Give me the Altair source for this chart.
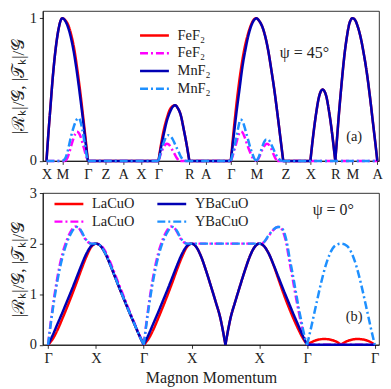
import json
import altair as alt
import pandas as pd

FONT = "Liberation Serif"
FS = 14.5

# ---------------- panel (a): psi = 45 deg ----------------
top_ticks = [0, 16, 41.6, 59.3, 77, 95, 112.6, 143.6, 160, 185.3, 211, 240.3, 265.3, 290.3, 307.6, 332.6]
top_labels = ["X", "M", "Γ", "Z", "A", "X", "Γ", "R", "A", "Γ", "M", "Z", "X", "R", "M", "A"]

mnf2_R = [
    ([0, 2, 4, 6, 8, 10, 12, 14, 16, 19, 22, 25, 28, 31, 34, 37, 40, 41.6],
     [0, 0.2, 0.38, 0.56, 0.71, 0.83, 0.92, 0.98, 1.0, 0.98, 0.93, 0.85, 0.74, 0.6, 0.44, 0.27, 0.09, 0]),
    ([41.6, 112.6], [0, 0]),
    ([112.6, 115, 118, 121, 124, 127, 129.3, 132, 135, 138, 141, 143.6],
     [0, 0.09, 0.19, 0.28, 0.34, 0.38, 0.39, 0.37, 0.32, 0.22, 0.11, 0]),
    ([143.6, 185.3], [0, 0]),
    ([185.3, 188, 191, 194, 197, 200, 203, 206, 209, 211, 214, 217, 220, 223, 226, 229, 232, 235, 238],
     [0, 0.16, 0.34, 0.5, 0.66, 0.78, 0.88, 0.95, 0.99, 1.0, 0.98, 0.94, 0.87, 0.77, 0.64, 0.5, 0.34, 0.17, 0]),
    ([238, 265.3], [0, 0]),
    ([265.3, 268, 271, 274, 277.6, 281, 284, 287, 290.3],
     [0, 0.17, 0.33, 0.45, 0.5, 0.46, 0.35, 0.2, 0]),
    ([290.3, 292, 294, 296, 298, 300, 302, 304, 306, 307.6, 310, 313, 316, 319, 322, 325, 328, 331, 332.6],
     [0, 0.15, 0.33, 0.49, 0.64, 0.77, 0.87, 0.95, 0.99, 1.0, 0.99, 0.94, 0.86, 0.75, 0.62, 0.46, 0.28, 0.1, 0]),
]

fef2_R = [
    ([0, 2, 4, 6, 8, 10, 12, 14, 16, 19, 22, 25, 28, 31, 34, 37, 40, 41.6],
     [0, 0.2, 0.38, 0.56, 0.71, 0.83, 0.92, 0.98, 1.0, 0.985, 0.95, 0.88, 0.78, 0.64, 0.48, 0.3, 0.11, 0]),
    ([41.6, 112.6], [0, 0]),
    ([112.6, 115, 118, 121, 124, 127, 129.3, 132, 135, 138, 141, 143.6],
     [0, 0.11, 0.22, 0.3, 0.36, 0.385, 0.39, 0.37, 0.32, 0.22, 0.11, 0]),
    ([143.6, 185.3], [0, 0]),
    ([185.3, 188, 191, 194, 197, 200, 203, 206, 209, 211, 214, 217, 220, 223, 226, 229, 232, 235, 238],
     [0, 0.2, 0.4, 0.57, 0.71, 0.82, 0.9, 0.96, 0.995, 1.0, 0.98, 0.94, 0.87, 0.77, 0.64, 0.5, 0.34, 0.17, 0]),
    ([238, 265.3], [0, 0]),
    ([265.3, 268, 271, 274, 277.6, 281, 284, 287, 290.3],
     [0, 0.17, 0.33, 0.45, 0.5, 0.46, 0.35, 0.2, 0]),
    ([290.3, 292, 294, 296, 298, 300, 302, 304, 306, 307.6, 310, 313, 316, 319, 322, 325, 328, 331, 332.6],
     [0, 0.15, 0.33, 0.49, 0.64, 0.77, 0.87, 0.95, 0.99, 1.0, 0.99, 0.94, 0.86, 0.75, 0.62, 0.46, 0.28, 0.1, 0]),
]

fef2_T = [
    ([0, 19], [0, 0]),
    ([19, 21, 23, 25, 27, 29, 30.5, 32, 34, 36, 38, 40, 41.6],
     [0, 0.02, 0.06, 0.11, 0.155, 0.19, 0.205, 0.2, 0.175, 0.13, 0.08, 0.03, 0]),
    ([41.6, 112.6], [0, 0]),
    ([112.6, 114, 116, 118, 119.5, 121, 123, 125, 127, 129, 131, 133, 134.5],
     [0, 0.03, 0.07, 0.1, 0.115, 0.12, 0.115, 0.095, 0.07, 0.045, 0.02, 0.005, 0]),
    ([134.5, 185.3], [0, 0]),
    ([185.3, 187, 189, 191, 193, 195.3, 197, 199, 201, 203, 205, 207, 209, 211],
     [0, 0.03, 0.08, 0.13, 0.18, 0.205, 0.2, 0.17, 0.13, 0.09, 0.055, 0.025, 0.008, 0]),
    ([211, 213, 215, 217, 219, 221.5, 224, 226, 228, 230, 232],
     [0, 0.015, 0.045, 0.08, 0.105, 0.12, 0.11, 0.085, 0.05, 0.02, 0]),
    ([232, 332.6], [0, 0]),
]

mnf2_T = [
    ([0, 16.5], [0, 0]),
    ([16.5, 19, 21, 23, 25, 27, 29, 31, 32.6, 34, 36, 38, 40, 41.6],
     [0, 0.02, 0.06, 0.12, 0.18, 0.23, 0.27, 0.295, 0.3, 0.28, 0.22, 0.14, 0.05, 0]),
    ([41.6, 112.6], [0, 0]),
    ([112.6, 114.5, 116.5, 118.5, 120.5, 122.6, 125, 127, 129, 131, 133, 135, 137, 139.5],
     [0, 0.05, 0.1, 0.14, 0.17, 0.18, 0.17, 0.15, 0.12, 0.09, 0.06, 0.03, 0.01, 0]),
    ([139.5, 185.3], [0, 0]),
    ([185.3, 187, 189, 191, 193, 195, 197, 199, 201, 203, 205, 207, 209, 211],
     [0, 0.04, 0.1, 0.17, 0.24, 0.29, 0.28, 0.24, 0.19, 0.14, 0.09, 0.05, 0.015, 0]),
    ([211, 213, 215, 217, 219, 221, 223, 225, 227, 229, 231, 233, 235, 237],
     [0, 0.02, 0.06, 0.1, 0.135, 0.15, 0.15, 0.13, 0.1, 0.07, 0.04, 0.02, 0.005, 0]),
    ([237, 332.6], [0, 0]),
]

# ---------------- panel (b): psi = 0 deg ----------------
bot_ticks = [0, 1, 2, 3, 4.414, 5.414, 6.828]
bot_labels = ["Γ", "X", "Γ", "X", "X", "Γ", "Γ"]

ybacuo_R = [
    ([0, 0.1, 0.2, 0.3, 0.4, 0.5, 0.6, 0.7, 0.8, 0.9, 1.0, 1.1, 1.2, 1.3, 1.4, 1.5, 1.6, 1.7, 1.8, 1.9, 2.0],
     [0, 0.2, 0.42, 0.64, 0.87, 1.1, 1.34, 1.58, 1.8, 1.95, 2.0, 1.95, 1.8, 1.58, 1.34, 1.1, 0.87, 0.64, 0.42, 0.2, 0]),
    ([2.0, 2.1, 2.2, 2.3, 2.4, 2.5, 2.6, 2.7, 2.8, 2.9, 3.0, 3.1, 3.2, 3.3, 3.4, 3.5, 3.6, 3.707],
     [0, 0.2, 0.42, 0.64, 0.87, 1.1, 1.34, 1.58, 1.8, 1.95, 2.0, 1.93, 1.74, 1.47, 1.17, 0.86, 0.53, 0]),
    ([3.707, 3.814, 3.914, 4.014, 4.114, 4.214, 4.314, 4.414, 4.514, 4.614, 4.714, 4.814, 4.914, 5.014, 5.114, 5.214, 5.314, 5.414],
     [0, 0.53, 0.86, 1.17, 1.47, 1.74, 1.93, 2.0, 1.95, 1.8, 1.58, 1.34, 1.1, 0.87, 0.64, 0.42, 0.2, 0]),
    ([5.414, 6.828], [0, 0]),
]

lacuo_R = [
    ([0, 0.1, 0.2, 0.3, 0.4, 0.5, 0.6, 0.7, 0.8, 0.9, 1.0, 1.1, 1.2, 1.3, 1.4, 1.5, 1.6, 1.7, 1.8, 1.9, 2.0],
     [0, 0.12, 0.3, 0.52, 0.75, 0.99, 1.24, 1.5, 1.74, 1.93, 2.0, 1.95, 1.8, 1.58, 1.34, 1.1, 0.87, 0.64, 0.42, 0.2, 0]),
    ([2.0, 2.1, 2.2, 2.3, 2.4, 2.5, 2.6, 2.7, 2.8, 2.9, 3.0, 3.1, 3.2, 3.3, 3.4, 3.5, 3.6, 3.707],
     [0, 0.12, 0.3, 0.52, 0.75, 0.99, 1.24, 1.5, 1.74, 1.93, 2.0, 1.93, 1.74, 1.47, 1.17, 0.86, 0.53, 0]),
    ([3.707, 3.814, 3.914, 4.014, 4.114, 4.214, 4.314, 4.414, 4.514, 4.614, 4.714, 4.814, 4.914, 5.014, 5.114, 5.214, 5.314, 5.414],
     [0, 0.53, 0.86, 1.17, 1.47, 1.74, 1.93, 2.0, 1.95, 1.8, 1.57, 1.3, 1.03, 0.78, 0.55, 0.34, 0.15, 0]),
    ([5.414, 5.5, 5.6, 5.7, 5.77, 5.85, 5.95, 6.05, 6.121],
     [0, 0.05, 0.09, 0.11, 0.115, 0.11, 0.09, 0.05, 0]),
    ([6.121, 6.2, 6.3, 6.4, 6.475, 6.55, 6.65, 6.75, 6.828],
     [0, 0.05, 0.09, 0.11, 0.115, 0.11, 0.09, 0.05, 0]),
]

ybacuo_T = [
    ([0, 0.05, 0.1, 0.15, 0.2, 0.25, 0.3, 0.35, 0.4, 0.45, 0.5, 0.55, 0.6, 0.65, 0.7, 0.75, 0.8, 0.85, 0.9, 1.0,
      1.1, 1.2, 1.3, 1.4, 1.5, 1.6, 1.7, 1.8, 1.9, 2.0],
     [0, 0.37, 0.71, 1.02, 1.29, 1.53, 1.73, 1.9, 2.04, 2.15, 2.24, 2.3, 2.33, 2.31, 2.24, 2.15, 2.07, 2.02, 2.0, 2.0,
      1.95, 1.8, 1.58, 1.34, 1.1, 0.87, 0.64, 0.42, 0.2, 0]),
    ([2.0, 2.05, 2.1, 2.15, 2.2, 2.25, 2.3, 2.35, 2.4, 2.45, 2.5, 2.55, 2.6, 2.65, 2.7, 2.75, 2.8, 2.85, 2.9, 3.0,
      4.414, 4.5, 4.6, 4.7, 4.8, 4.85, 4.9, 4.95, 5.0, 5.05, 5.1, 5.15, 5.2, 5.25, 5.3, 5.35, 5.414],
     [0, 0.37, 0.71, 1.02, 1.29, 1.53, 1.73, 1.9, 2.04, 2.15, 2.24, 2.3, 2.33, 2.31, 2.24, 2.15, 2.07, 2.02, 2.0, 2.0,
      2.0, 2.02, 2.15, 2.27, 2.33, 2.33, 2.29, 2.18, 1.98, 1.7, 1.46, 1.2, 0.93, 0.67, 0.44, 0.21, 0]),
    ([5.414, 5.5, 5.6, 5.7, 5.8, 5.9, 6.0, 6.121, 6.242, 6.342, 6.442, 6.542, 6.642, 6.742, 6.828],
     [0, 0.35, 0.78, 1.2, 1.56, 1.82, 1.96, 2.0, 1.96, 1.82, 1.56, 1.2, 0.78, 0.35, 0]),
]

lacuo_T = [
    ([0, 0.05, 0.1, 0.15, 0.2, 0.25, 0.3, 0.35, 0.4, 0.45, 0.5, 0.55, 0.6, 0.65, 0.7, 0.75, 0.8, 0.85, 0.9, 1.0,
      1.1, 1.2, 1.3, 1.4, 1.5, 1.6, 1.7, 1.8, 1.9, 2.0],
     [0, 0.4, 0.76, 1.08, 1.36, 1.6, 1.8, 1.96, 2.09, 2.2, 2.28, 2.33, 2.34, 2.3, 2.22, 2.13, 2.06, 2.02, 2.0, 2.0,
      1.97, 1.84, 1.63, 1.39, 1.15, 0.91, 0.67, 0.44, 0.21, 0]),
    ([2.0, 2.05, 2.1, 2.15, 2.2, 2.25, 2.3, 2.35, 2.4, 2.45, 2.5, 2.55, 2.6, 2.65, 2.7, 2.75, 2.8, 2.85, 2.9, 3.0,
      4.414, 4.5, 4.6, 4.7, 4.8, 4.85, 4.9, 4.95, 5.0, 5.05, 5.1, 5.15, 5.2, 5.25, 5.3, 5.35, 5.414],
     [0, 0.4, 0.76, 1.08, 1.36, 1.6, 1.8, 1.96, 2.09, 2.2, 2.28, 2.33, 2.34, 2.3, 2.22, 2.13, 2.06, 2.02, 2.0, 2.0,
      2.0, 2.02, 2.14, 2.26, 2.33, 2.32, 2.26, 2.12, 1.9, 1.62, 1.37, 1.1, 0.84, 0.6, 0.38, 0.17, 0]),
    ([5.414, 6.828], [0, 0]),
]

annotations_a = ["ψ = 45°", "(a)"]
annotations_b = ["ψ = 0°", "(b)"]
y_title = "|ℛₖ|/𝒢, |𝒯ₖ|/𝒢"
x_title = "Magnon Momentum"

RED, MAG, NAVY, LBLUE = "#ff0000", "#ff00ff", "#0000b4", "#1e90ff"
SOLID, DASHDOT = [1, 0], [8, 3, 2, 3]


def frame(segments, name):
    rows = []
    for i, (xs, ys) in enumerate(segments):
        for x, y in zip(xs, ys):
            rows.append({"k": x, "v": y, "seg": i, "series": name})
    return pd.DataFrame(rows)


def label_expr(pos, labs):
    return "%s[indexof(%s, datum.value)]" % (json.dumps(labs, ensure_ascii=False), json.dumps(pos))


def panel(series, domain, colors, dashes, xdom, ticks, labels, ydom, yvals, height, legend, xtitle, texts):
    x = alt.X("k:Q", scale=alt.Scale(domain=xdom, nice=False, zero=False),
              axis=alt.Axis(values=ticks, labelExpr=label_expr(ticks, labels), title=xtitle,
                            titleFont=FONT, titleFontSize=16, titlePadding=5,
                            labelFlush=False, labelOverlap=False, grid=False))
    y = alt.Y("v:Q", scale=alt.Scale(domain=ydom, nice=False, zero=False),
              axis=alt.Axis(values=yvals, title=y_title, grid=False, format="d",
                            titleFont=FONT, titleFontSize=17, titlePadding=2))
    layers = []
    for segs, name in series:
        layers.append(
            alt.Chart(frame(segs, name)).mark_line(interpolate="monotone", strokeWidth=2.5).encode(
                x=x, y=y, detail="seg:N",
                color=alt.Color("series:N", scale=alt.Scale(domain=domain, range=colors), legend=legend),
                strokeDash=alt.StrokeDash("series:N", scale=alt.Scale(domain=domain, range=dashes), legend=legend),
            )
        )
    for txt, px, py, fs in texts:
        layers.append(
            alt.Chart(pd.DataFrame({"t": [txt]})).mark_text(font=FONT, fontSize=fs, color="#222").encode(
                text="t:N", x=alt.value(px), y=alt.value(py))
        )
    return alt.layer(*layers).properties(width=338, height=height)


def make_legend(lx, ly, cols, colpad):
    return alt.Legend(orient="none", legendX=lx, legendY=ly, title=None, columns=cols, columnPadding=colpad,
                      symbolType="M-2.9,0H2.9", symbolSize=100, symbolStrokeWidth=2.5, padding=0,
                      labelFont=FONT, labelFontSize=FS, labelColor="#222", rowPadding=2.8, labelOffset=16,
                      labelExpr="split(datum.label, '|')[0]")


top_domain = ["FeF₂|R", "FeF₂|T", "MnF₂|R", "MnF₂|T"]
top = panel(
    [(fef2_R, "FeF₂|R"), (fef2_T, "FeF₂|T"), (mnf2_R, "MnF₂|R"), (mnf2_T, "MnF₂|T")],
    top_domain, [RED, MAG, NAVY, LBLUE], [SOLID, DASHDOT, SOLID, DASHDOT],
    [-3.7, 334.3], top_ticks, top_labels, [0, 1.051], [0, 1], 150.7,
    make_legend(105, 17.5, 1, 10), None,
    [(annotations_a[0], 263, 42, 16), (annotations_a[1], 313, 127, FS)],
)

bot_domain = ["LaCuO|R", "LaCuO|T", "YBaCuO|R", "YBaCuO|T"]
bottom = panel(
    [(lacuo_R, "LaCuO|R"), (lacuo_T, "LaCuO|T"), (ybacuo_R, "YBaCuO|R"), (ybacuo_T, "YBaCuO|T")],
    bot_domain, [RED, MAG, NAVY, LBLUE], [SOLID, DASHDOT, SOLID, DASHDOT],
    [-0.11, 6.917], bot_ticks, bot_labels, [0, 3], [0, 1, 2, 3], 152.6,
    make_legend(19, 3.7, 2, 16.4), x_title,
    [(annotations_b[0], 292, 17, 16), (annotations_b[1], 313, 125, FS)],
)

chart = alt.vconcat(top, bottom, spacing=32, bounds="flush").resolve_scale(
    color="independent", strokeDash="independent"
).properties(padding=0).configure_view(stroke="#000", strokeWidth=0.8).configure_axis(
    labelFont=FONT, labelFontSize=FS, labelColor="#222", titleFont=FONT, titleFontSize=FS,
    titleFontWeight="normal", titleColor="#222", domainColor="#000", domainWidth=0.8,
    tickColor="#000", tickWidth=0.8, tickSize=3.5, labelPadding=3, titlePadding=6,
)

chart.save("out.html", embed_options={"renderer": "svg", "actions": False})
